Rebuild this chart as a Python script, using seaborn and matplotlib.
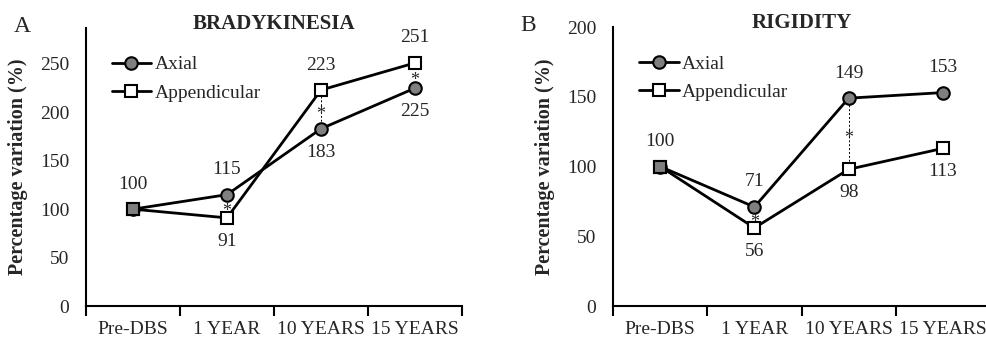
import numpy as np
import matplotlib
matplotlib.use("Agg")
import matplotlib.pyplot as plt
import seaborn as sns

# data
timepoints = ["Pre-DBS", "1 YEAR", "10 YEARS", "15 YEARS"]

brady_axial = [100, 115, 183, 225]
brady_append = [100, 91, 223, 251]
brady_axial_pos = ["above", "above", "below", "below"]
brady_append_pos = [None, "below", "above", "above"]
brady_stars = [1, 2, 3]      # timepoints with significant difference
brady_dotted = [2]           # timepoints with a dotted connector

rigid_axial = [100, 71, 149, 153]
rigid_append = [100, 56, 98, 113]
rigid_axial_pos = ["above", "above", "above", "above"]
rigid_append_pos = [None, "below", "below", "below"]
rigid_stars = [1, 2]
rigid_dotted = [2]

sns.set_style("white")
plt.rcParams["font.family"] = ["Liberation Serif", "DejaVu Serif"]
plt.rcParams["axes.linewidth"] = 1.5

fig = plt.figure(figsize=(9.87, 3.39), dpi=100)
axA = fig.add_axes([0.0871, 0.0973, 0.381, 0.820])
axB = fig.add_axes([0.6211, 0.0973, 0.382, 0.823])

GREY = "#7f7f7f"
FS = 14


def draw_panel(ax, axial, append, ax_pos, ap_pos, stars, dotted, ymax, yticks, title, letter):
    sns.lineplot(x=timepoints, y=axial, ax=ax, sort=False, color="black", lw=2,
                 marker="o", markersize=9, markerfacecolor=GREY,
                 markeredgecolor="black", markeredgewidth=1.5, label="Axial", zorder=3)
    sns.lineplot(x=timepoints, y=append, ax=ax, sort=False, color="black", lw=2,
                 marker="s", markersize=9, markerfacecolor="white",
                 markeredgecolor="black", markeredgewidth=1.5, label="Appendicular", zorder=4)
    # baseline point is shown as a grey square
    ax.plot([timepoints[0]], [append[0]], marker="s", markersize=9, color=GREY,
            markeredgecolor="black", markeredgewidth=1.5, ls="none", zorder=5)

    # value labels
    for vals, pos in ((axial, ax_pos), (append, ap_pos)):
        for i, (v, p) in enumerate(zip(vals, pos)):
            if p is None:
                continue
            off = 18 if p == "above" else -17
            ax.annotate(str(v), (i, v), xytext=(0, off), textcoords="offset points",
                        ha="center", va="center", fontsize=FS)

    # dotted connectors and asterisks
    for i in dotted:
        ax.vlines(i, min(axial[i], append[i]), max(axial[i], append[i]),
                  colors="black", linestyles=(0, (2, 2)), lw=0.7, zorder=1)
    for i in stars:
        mid = (axial[i] + append[i]) / 2
        ax.annotate("*", (i, mid), xytext=(0, -7), textcoords="offset points",
                    ha="center", va="baseline", fontsize=13, zorder=6)

    ax.set_xlim(-0.5, 3.5)
    ax.set_ylim(0, ymax)
    ax.set_yticks(yticks)
    ax.set_xticks(range(len(timepoints)))
    ax.set_xticklabels(timepoints)
    ax.set_xticks(np.arange(-0.5, len(timepoints), 1.0), minor=True)
    ax.tick_params(axis="x", which="major", length=0, pad=11, labelsize=FS)
    ax.tick_params(axis="x", which="minor", length=7, width=1.5, color="black", direction="out")
    ax.tick_params(axis="y", length=0, pad=12, labelsize=FS)
    ax.xaxis.set_tick_params(bottom=True, which="minor")
    sns.despine(ax=ax)
    for s in ("left", "bottom"):
        ax.spines[s].set_color("black")

    ax.set_xlabel("")
    ax.set_ylabel("Percentage variation (%)", fontsize=14.5, fontweight="bold")
    ax.yaxis.set_label_coords(-0.153, 0.5)

    ax.text(0.5, 1.015, title, transform=ax.transAxes, ha="center", va="center",
            fontsize=15, fontweight="bold")
    ax.text(-0.17, 1.005, letter, transform=ax.transAxes, ha="center", va="center",
            fontsize=17)

    ax.legend(loc="upper left", bbox_to_anchor=(0.068, 0.90), frameon=False,
              fontsize=FS, handlelength=2.05, handletextpad=0.15, labelspacing=0.55,
              borderpad=0, borderaxespad=0)


draw_panel(axA, brady_axial, brady_append, brady_axial_pos, brady_append_pos,
           brady_stars, brady_dotted, 287, [0, 50, 100, 150, 200, 250], "BRADYKINESIA", "A")
draw_panel(axB, rigid_axial, rigid_append, rigid_axial_pos, rigid_append_pos,
           rigid_stars, rigid_dotted, 200, [0, 50, 100, 150, 200], "RIGIDITY", "B")
axB.texts[-1].set_position((-0.225, 1.005))

fig.savefig("out.png", dpi=100)
